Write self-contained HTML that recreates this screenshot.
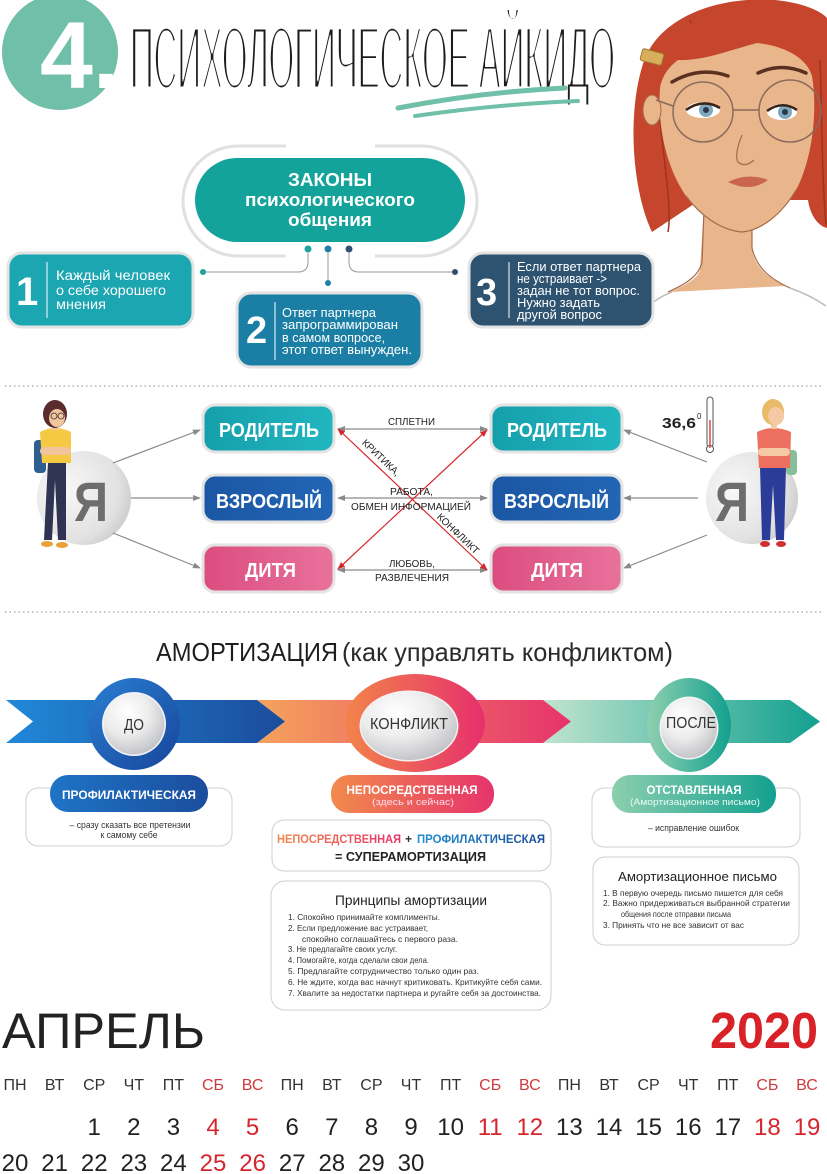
<!DOCTYPE html>
<html><head><meta charset="utf-8"><style>
html,body{margin:0;padding:0;background:#fff;}
svg{display:block;}
text{font-family:"Liberation Sans","DejaVu Sans",sans-serif;}
</style></head><body>
<svg width="827" height="1174" viewBox="0 0 827 1174" xmlns="http://www.w3.org/2000/svg">
<defs>
<filter id="thin" x="-5%" y="-20%" width="110%" height="140%"><feMorphology operator="erode" radius="0.6 2.4"/></filter>
<marker id="ag" markerWidth="8" markerHeight="6" refX="7" refY="3" orient="auto-start-reverse" markerUnits="userSpaceOnUse"><path d="M0,0 L8,3 L0,6 Z" fill="#8a8a8a"/></marker>
<marker id="ar" markerWidth="8" markerHeight="6" refX="7" refY="3" orient="auto-start-reverse" markerUnits="userSpaceOnUse"><path d="M0,0 L8,3 L0,6 Z" fill="#d6282c"/></marker>
<linearGradient id="gTeal" x1="0" x2="1"><stop offset="0" stop-color="#14a0ab"/><stop offset="1" stop-color="#22b6c0"/></linearGradient>
<linearGradient id="gBlue" x1="0" x2="1"><stop offset="0" stop-color="#1b56a3"/><stop offset="1" stop-color="#2266b5"/></linearGradient>
<linearGradient id="gPink" x1="0" x2="1"><stop offset="0" stop-color="#db4d7f"/><stop offset="1" stop-color="#e8729b"/></linearGradient>
<linearGradient id="bBlue" x1="0" x2="1"><stop offset="0" stop-color="#2188d8"/><stop offset="1" stop-color="#1b4c9c"/></linearGradient>
<linearGradient id="bOr" x1="0" x2="1"><stop offset="0" stop-color="#f5a35d"/><stop offset="1" stop-color="#e6336c"/></linearGradient>
<linearGradient id="bGr" x1="0" x2="1"><stop offset="0" stop-color="#c0e4cf"/><stop offset="1" stop-color="#12a08f"/></linearGradient>
<linearGradient id="cBlue" x1="0" y1="0" x2="1" y2="1"><stop offset="0" stop-color="#2a7fd4"/><stop offset="1" stop-color="#17459a"/></linearGradient>
<linearGradient id="cOr" x1="0" x2="1"><stop offset="0" stop-color="#f2844a"/><stop offset="1" stop-color="#e6306c"/></linearGradient>
<linearGradient id="cGr" x1="0" x2="1"><stop offset="0" stop-color="#8fd0b0"/><stop offset="1" stop-color="#13a08e"/></linearGradient>
<radialGradient id="gIn" cx="0.38" cy="0.3" r="0.75"><stop offset="0" stop-color="#ffffff"/><stop offset="0.5" stop-color="#ececec"/><stop offset="1" stop-color="#bfc0c5"/></radialGradient>
<radialGradient id="gYa" cx="0.3" cy="0.4" r="0.8"><stop offset="0" stop-color="#f8f8f8"/><stop offset="0.7" stop-color="#e2e2e2"/><stop offset="1" stop-color="#c4c4c4"/></radialGradient>
<linearGradient id="pBlue" x1="0" x2="1"><stop offset="0" stop-color="#1f74c6"/><stop offset="1" stop-color="#1b4d9d"/></linearGradient>
<linearGradient id="pOr" x1="0" x2="1"><stop offset="0" stop-color="#f28a4c"/><stop offset="1" stop-color="#e6336c"/></linearGradient>
<linearGradient id="pGr" x1="0" x2="1"><stop offset="0" stop-color="#8ccfae"/><stop offset="1" stop-color="#13a090"/></linearGradient>
<linearGradient id="tOr" gradientUnits="userSpaceOnUse" x1="277" x2="401"><stop offset="0" stop-color="#f28a4c"/><stop offset="1" stop-color="#e6336c"/></linearGradient>
<linearGradient id="tBl" gradientUnits="userSpaceOnUse" x1="417" x2="545"><stop offset="0" stop-color="#1f8fd0"/><stop offset="1" stop-color="#1b4d9d"/></linearGradient>
</defs>

<!-- ===== HEADER ===== -->
<circle cx="60" cy="52" r="58" fill="#70bfa8"/>
<text x="40" y="88" font-size="95" font-weight="bold" fill="#fff">4.</text>
<text x="130" y="89" font-size="90" fill="#1a1a1a" textLength="485" lengthAdjust="spacingAndGlyphs" filter="url(#thin)">ПСИХОЛОГИЧЕСКОЕ АЙКИДО</text>
<path d="M398 108 Q480 92 565 88" stroke="#70bfa8" stroke-width="5" fill="none" stroke-linecap="round"/>
<path d="M415 116 Q500 104 578 101" stroke="#70bfa8" stroke-width="4" fill="none" stroke-linecap="round"/>

<!-- Girl illustration -->
<g>
<path d="M652 232 C632 190 626 110 645 58 C662 18 715 -4 775 0 C805 3 822 12 827 18 L827 228 C818 226 810 215 808 200 L700 200 Z" fill="#c5462d"/>
<path d="M660 120 C665 170 672 210 668 232 M820 60 C822 120 822 180 826 225 M690 20 C700 60 720 40 760 22" stroke="#9c3420" stroke-width="1.5" fill="none"/>
<path d="M700 270 L704 205 L752 205 L752 250 C755 266 765 276 785 286 L670 292 C688 284 698 278 700 270 Z" fill="#e9b68c"/>
<path d="M704 210 L702 262 C699 276 686 284 668 292 M752 212 L752 248 C756 266 768 278 790 288" stroke="#a46a4a" stroke-width="1.2" fill="none"/>
<path d="M640 312 Q660 296 672 292 M790 288 Q810 295 826 306" stroke="#bdbdbd" stroke-width="1.5" fill="none"/>
<path d="M660 88 C664 60 700 42 740 42 C780 42 806 56 812 76 C818 112 812 160 796 190 C782 214 762 230 742 232 C720 230 700 215 686 196 C668 170 657 130 660 88 Z" fill="#e9b68c"/>
<path d="M686 196 C700 215 720 230 742 232 C762 230 782 214 796 190" stroke="#a46a4a" stroke-width="1.2" fill="none"/>
<path d="M655 55 C690 70 730 48 770 40 C795 36 812 50 818 62 L822 30 C790 10 720 10 670 30 Z" fill="#c5462d"/>
<ellipse cx="652" cy="110" rx="9" ry="15" fill="#e9b68c" stroke="#a46a4a" stroke-width="1"/>
<rect x="641" y="51" width="22" height="12" rx="2" fill="#d8ad5c" stroke="#a07a30" transform="rotate(15 652 57)"/>
<path d="M672 82 Q700 66 728 76" stroke="#5a3020" stroke-width="3.5" fill="none" stroke-linecap="round"/>
<path d="M758 73 Q782 62 806 73" stroke="#5a3020" stroke-width="3.5" fill="none" stroke-linecap="round"/>
<ellipse cx="703" cy="110" rx="17" ry="8" fill="#fff"/>
<circle cx="706" cy="110" r="7" fill="#7fa9c0"/><circle cx="706" cy="110" r="3" fill="#2a3a4a"/>
<path d="M686 110 Q703 98 720 108" stroke="#3a2418" stroke-width="2.5" fill="none"/>
<ellipse cx="782" cy="112" rx="15" ry="8" fill="#fff"/>
<circle cx="785" cy="112" r="7" fill="#7fa9c0"/><circle cx="785" cy="112" r="3" fill="#2a3a4a"/>
<path d="M767 111 Q782 100 797 110" stroke="#3a2418" stroke-width="2.5" fill="none"/>
<circle cx="703" cy="112" r="30" fill="none" stroke="#8a6a5a" stroke-width="1.5"/>
<circle cx="790" cy="111" r="31" fill="none" stroke="#8a6a5a" stroke-width="1.5"/>
<path d="M733 110 L759 110 M673 106 L656 100" stroke="#8a6a5a" stroke-width="1.5"/>
<path d="M742 135 Q734 155 738 162 Q745 168 754 160" stroke="#a46a4a" stroke-width="1.2" fill="none"/>
<path d="M728 182 Q748 172 768 180 Q750 193 728 182 Z" fill="#c9654e"/>
</g>

<!-- ===== LAWS ===== -->
<rect x="183" y="146" width="294" height="110" rx="55" fill="none" stroke="#e0e0e0" stroke-width="3"/>
<rect x="286" y="140" width="89" height="12" fill="#fff"/>
<rect x="286" y="250" width="89" height="12" fill="#fff"/>
<rect x="195" y="158" width="270" height="84" rx="42" fill="#14a39a"/>
<text x="330" y="186" text-anchor="middle" font-size="18" font-weight="bold" fill="#fff" textLength="84" lengthAdjust="spacingAndGlyphs">ЗАКОНЫ</text>
<text x="330" y="206" text-anchor="middle" font-size="18" font-weight="bold" fill="#fff" textLength="170" lengthAdjust="spacingAndGlyphs">психологического</text>
<text x="330" y="226" text-anchor="middle" font-size="18" font-weight="bold" fill="#fff" textLength="84" lengthAdjust="spacingAndGlyphs">общения</text>
<path d="M308 253 V262 Q308 272 298 272 H203" stroke="#9a9a9a" stroke-width="1" fill="none"/>
<path d="M328 253 V283" stroke="#9a9a9a" stroke-width="1"/>
<path d="M349 253 V262 Q349 272 359 272 H455" stroke="#9a9a9a" stroke-width="1" fill="none"/>
<circle cx="308" cy="249" r="3.5" fill="#1aa3a0"/><circle cx="328" cy="249" r="3.5" fill="#1e7fa5"/><circle cx="349" cy="249" r="3.5" fill="#2f5270"/>
<circle cx="203" cy="272" r="3" fill="#1aa3a0"/><circle cx="328" cy="283" r="3" fill="#1e7fa5"/><circle cx="455" cy="272" r="3" fill="#2f5270"/>

<rect x="8" y="253" width="185" height="74" rx="14" fill="#1ba6b2" stroke="#e3e3e3" stroke-width="3"/>
<text x="16" y="305" font-size="40" font-weight="bold" fill="#fff">1</text>
<line x1="47" y1="262" x2="47" y2="318" stroke="#fff" stroke-width="1"/>
<text x="56" y="280" font-size="14" fill="#fff" textLength="114" lengthAdjust="spacingAndGlyphs">Каждый человек</text>
<text x="56" y="295" font-size="14" fill="#fff" textLength="110" lengthAdjust="spacingAndGlyphs">о себе хорошего</text>
<text x="56" y="309" font-size="14" fill="#fff" textLength="50" lengthAdjust="spacingAndGlyphs">мнения</text>

<rect x="237" y="293" width="185" height="74" rx="14" fill="#1b7fa5" stroke="#e3e3e3" stroke-width="3"/>
<text x="246" y="343" font-size="38" font-weight="bold" fill="#fff">2</text>
<line x1="275" y1="302" x2="275" y2="360" stroke="#fff" stroke-width="1"/>
<text x="282" y="317" font-size="13" fill="#fff" textLength="94" lengthAdjust="spacingAndGlyphs">Ответ партнера</text>
<text x="282" y="329" font-size="13" fill="#fff" textLength="116" lengthAdjust="spacingAndGlyphs">запрограммирован</text>
<text x="282" y="342" font-size="13" fill="#fff" textLength="103" lengthAdjust="spacingAndGlyphs">в самом вопросе,</text>
<text x="282" y="354" font-size="13" fill="#fff" textLength="130" lengthAdjust="spacingAndGlyphs">этот ответ вынужден.</text>

<rect x="469" y="253" width="184" height="74" rx="14" fill="#2e5370" stroke="#e3e3e3" stroke-width="3"/>
<text x="476" y="305" font-size="38" font-weight="bold" fill="#fff">3</text>
<line x1="509" y1="262" x2="509" y2="318" stroke="#fff" stroke-width="1"/>
<text x="517" y="271" font-size="13" fill="#fff" textLength="124" lengthAdjust="spacingAndGlyphs">Если ответ партнера</text>
<text x="517" y="283" font-size="13" fill="#fff" textLength="90" lengthAdjust="spacingAndGlyphs">не устраивает -&gt;</text>
<text x="517" y="295" font-size="13" fill="#fff" textLength="123" lengthAdjust="spacingAndGlyphs">задан не тот вопрос.</text>
<text x="517" y="307" font-size="13" fill="#fff" textLength="83" lengthAdjust="spacingAndGlyphs">Нужно задать</text>
<text x="517" y="319" font-size="13" fill="#fff" textLength="85" lengthAdjust="spacingAndGlyphs">другой вопрос</text>

<line x1="5" y1="386" x2="822" y2="386" stroke="#b0b0b0" stroke-width="1.5" stroke-dasharray="1.5 3"/>
<line x1="5" y1="612" x2="822" y2="612" stroke="#b0b0b0" stroke-width="1.5" stroke-dasharray="1.5 3"/>

<!-- ===== TRANSACTIONAL ===== -->
<circle cx="84" cy="498" r="47" fill="url(#gYa)"/>
<text x="74" y="521" font-size="56" font-weight="bold" fill="#6d6d6d" textLength="34" lengthAdjust="spacingAndGlyphs">Я</text>
<circle cx="752" cy="498" r="46" fill="url(#gYa)"/>
<text x="715" y="521" font-size="56" font-weight="bold" fill="#6d6d6d" textLength="34" lengthAdjust="spacingAndGlyphs">Я</text>

<!-- left woman -->
<g>
<rect x="34" y="440" width="12" height="33" rx="4" fill="#2f5f8f"/>
<path d="M48 462 L44 540 L52 540 L55 480 L58 540 L66 540 L66 462 Z" fill="#2e3452"/>
<path d="M40 432 Q55 424 71 432 L71 463 L42 463 Z" fill="#f6c945"/>
<rect x="40" y="447" width="31" height="8" rx="4" fill="#f1c49c"/>
<ellipse cx="47" cy="544" rx="6" ry="3" fill="#e8a23a"/><ellipse cx="62" cy="545" rx="6" ry="3" fill="#e8a23a"/>
<rect x="52" y="424" width="6" height="6" fill="#f1c49c"/>
<ellipse cx="55" cy="414" rx="12" ry="14" fill="#5b2b2e"/>
<ellipse cx="57" cy="418" rx="8" ry="9" fill="#f1c49c"/>
<circle cx="54" cy="416" r="3" fill="none" stroke="#333" stroke-width="0.8"/><circle cx="61" cy="416" r="3" fill="none" stroke="#333" stroke-width="0.8"/>
</g>
<!-- right woman -->
<g>
<rect x="786" y="450" width="11" height="25" rx="4" fill="#86c09a"/>
<path d="M760 467 L762 540 L770 540 L773 485 L776 540 L784 540 L786 467 Z" fill="#2b3c98"/>
<path d="M757 432 Q773 424 791 432 L790 468 L759 468 Z" fill="#ec6f5f"/>
<rect x="758" y="448" width="32" height="8" rx="4" fill="#f4c9a4"/>
<ellipse cx="765" cy="544" rx="5" ry="3" fill="#d23030"/><ellipse cx="781" cy="544" rx="5" ry="3" fill="#d23030"/>
<rect x="771" y="423" width="6" height="6" fill="#f4c9a4"/>
<ellipse cx="773" cy="412" rx="11" ry="13" fill="#e7bb6a"/>
<ellipse cx="776" cy="416" rx="8" ry="9" fill="#f4c9a4"/>
</g>
<!-- thermometer -->
<rect x="707" y="397" width="6" height="50" rx="3" fill="#fff" stroke="#555" stroke-width="1"/>
<circle cx="710" cy="449" r="3.5" fill="#fff" stroke="#555" stroke-width="1"/>
<line x1="710" y1="420" x2="710" y2="448" stroke="#d44" stroke-width="1.5"/>
<text x="662" y="428" font-size="15" font-weight="bold" fill="#222" textLength="34" lengthAdjust="spacingAndGlyphs">36,6</text>
<text x="697" y="419" font-size="8" fill="#222">0</text>

<!-- arrows -->
<g stroke="#8a8a8a" stroke-width="1.2">
<line x1="113" y1="463" x2="200" y2="430" marker-end="url(#ag)"/>
<line x1="131" y1="498" x2="200" y2="498" marker-end="url(#ag)"/>
<line x1="113" y1="533" x2="200" y2="568" marker-end="url(#ag)"/>
<line x1="707" y1="462" x2="624" y2="430" marker-end="url(#ag)"/>
<line x1="698" y1="498" x2="624" y2="498" marker-end="url(#ag)"/>
<line x1="707" y1="535" x2="624" y2="568" marker-end="url(#ag)"/>
<line x1="338" y1="429" x2="487" y2="429" marker-start="url(#ag)" marker-end="url(#ag)"/>
<line x1="338" y1="498" x2="487" y2="498" marker-start="url(#ag)" marker-end="url(#ag)"/>
<line x1="338" y1="570" x2="487" y2="570" marker-start="url(#ag)" marker-end="url(#ag)"/>
</g>
<g stroke="#d6282c" stroke-width="1.2">
<line x1="338" y1="429" x2="487" y2="570" marker-start="url(#ar)" marker-end="url(#ar)"/>
<line x1="487" y1="430" x2="338" y2="569" marker-start="url(#ar)" marker-end="url(#ar)"/>
</g>

<!-- boxes -->
<rect x="203" y="405" width="131" height="47" rx="12" fill="url(#gTeal)" stroke="#e3e3e3" stroke-width="3"/>
<rect x="203" y="475" width="131" height="47" rx="12" fill="url(#gBlue)" stroke="#e3e3e3" stroke-width="3"/>
<rect x="203" y="545" width="131" height="47" rx="12" fill="url(#gPink)" stroke="#e3e3e3" stroke-width="3"/>
<rect x="491" y="405" width="131" height="47" rx="12" fill="url(#gTeal)" stroke="#e3e3e3" stroke-width="3"/>
<rect x="491" y="475" width="131" height="47" rx="12" fill="url(#gBlue)" stroke="#e3e3e3" stroke-width="3"/>
<rect x="491" y="545" width="131" height="47" rx="12" fill="url(#gPink)" stroke="#e3e3e3" stroke-width="3"/>
<g font-size="20" font-weight="bold" fill="#fff">
<text x="219" y="437" textLength="100" lengthAdjust="spacingAndGlyphs">РОДИТЕЛЬ</text>
<text x="216" y="508" textLength="106" lengthAdjust="spacingAndGlyphs">ВЗРОСЛЫЙ</text>
<text x="245" y="577" textLength="51" lengthAdjust="spacingAndGlyphs">ДИТЯ</text>
<text x="507" y="437" textLength="100" lengthAdjust="spacingAndGlyphs">РОДИТЕЛЬ</text>
<text x="504" y="508" textLength="105" lengthAdjust="spacingAndGlyphs">ВЗРОСЛЫЙ</text>
<text x="531" y="577" textLength="52" lengthAdjust="spacingAndGlyphs">ДИТЯ</text>
</g>
<g font-size="10" fill="#222">
<text x="388" y="425" textLength="47" lengthAdjust="spacingAndGlyphs">СПЛЕТНИ</text>
<text x="390" y="495" textLength="43" lengthAdjust="spacingAndGlyphs">РАБОТА,</text>
<text x="351" y="510" textLength="120" lengthAdjust="spacingAndGlyphs">ОБМЕН ИНФОРМАЦИЕЙ</text>
<text x="389" y="567" textLength="46" lengthAdjust="spacingAndGlyphs">ЛЮБОВЬ,</text>
<text x="375" y="581" textLength="74" lengthAdjust="spacingAndGlyphs">РАЗВЛЕЧЕНИЯ</text>
<text transform="translate(376 463) rotate(43.6)" x="0" y="-4" text-anchor="middle" textLength="48" lengthAdjust="spacingAndGlyphs">КРИТИКА,</text>
<text transform="translate(453 539) rotate(43.6)" x="0" y="-4" text-anchor="middle" textLength="54" lengthAdjust="spacingAndGlyphs">КОНФЛИКТ</text>
</g>

<!-- ===== AMORTIZATION ===== -->
<text x="156" y="661" font-size="26" fill="#1e1e1e" textLength="182" lengthAdjust="spacingAndGlyphs">АМОРТИЗАЦИЯ</text>
<text x="342" y="661" font-size="26" fill="#2a2a2a" textLength="331" lengthAdjust="spacingAndGlyphs">(как управлять конфликтом)</text>

<polygon points="543,700 790,700 820,721.5 790,743 543,743 571,721.5" fill="url(#bGr)"/>
<polygon points="257,700 543,700 571,721.5 543,743 257,743 285,721.5" fill="url(#bOr)"/>
<polygon points="6,700 257,700 285,721.5 257,743 6,743 33,721.5" fill="url(#bBlue)"/>

<circle cx="134" cy="724" r="46" fill="url(#cBlue)"/>
<circle cx="134" cy="724" r="32" fill="#f0f4fa"/>
<circle cx="134" cy="724" r="30.5" fill="url(#gIn)"/>
<text x="134" y="730" text-anchor="middle" font-size="16" fill="#333" textLength="20" lengthAdjust="spacingAndGlyphs">ДО</text>

<ellipse cx="415" cy="723" rx="70" ry="49" fill="url(#cOr)"/>
<ellipse cx="409" cy="726" rx="49.5" ry="35.5" fill="#f5f0f2"/>
<ellipse cx="409" cy="726" rx="48" ry="34" fill="url(#gIn)"/>
<text x="409" y="729" text-anchor="middle" font-size="16" fill="#333" textLength="78" lengthAdjust="spacingAndGlyphs">КОНФЛИКТ</text>

<ellipse cx="689" cy="725" rx="42" ry="47" fill="url(#cGr)"/>
<ellipse cx="689" cy="728" rx="29.5" ry="31.5" fill="#f0f6f3"/>
<ellipse cx="689" cy="728" rx="28" ry="30" fill="url(#gIn)"/>
<text x="691" y="728" text-anchor="middle" font-size="16" fill="#333" textLength="50" lengthAdjust="spacingAndGlyphs">ПОСЛЕ</text>

<!-- left -->
<rect x="26" y="788" width="206" height="58" rx="12" fill="#fff" stroke="#cfcfcf" stroke-width="1"/>
<rect x="50" y="775" width="158" height="37" rx="18" fill="url(#pBlue)"/>
<text x="62" y="799" font-size="12" font-weight="bold" fill="#fff" textLength="134" lengthAdjust="spacingAndGlyphs">ПРОФИЛАКТИЧЕСКАЯ</text>
<text x="130" y="828" text-anchor="middle" font-size="9.5" fill="#333" textLength="121" lengthAdjust="spacingAndGlyphs">– сразу сказать все претензии</text>
<text x="129" y="838" text-anchor="middle" font-size="9.5" fill="#333" textLength="57" lengthAdjust="spacingAndGlyphs">к самому себе</text>

<!-- middle -->
<rect x="331" y="775" width="163" height="38" rx="18" fill="url(#pOr)"/>
<text x="412" y="794" text-anchor="middle" font-size="12" font-weight="bold" fill="#fff" textLength="131" lengthAdjust="spacingAndGlyphs">НЕПОСРЕДСТВЕННАЯ</text>
<text x="413" y="805" text-anchor="middle" font-size="9" fill="#fde" textLength="82" lengthAdjust="spacingAndGlyphs">(здесь и сейчас)</text>
<rect x="272" y="820" width="279" height="51" rx="12" fill="#fff" stroke="#cfcfcf" stroke-width="1"/>
<text x="277" y="843" font-size="12" font-weight="bold" fill="url(#tOr)" textLength="124" lengthAdjust="spacingAndGlyphs">НЕПОСРЕДСТВЕННАЯ</text>
<text x="405" y="843" font-size="12" font-weight="bold" fill="#333">+</text>
<text x="417" y="843" font-size="12" font-weight="bold" fill="url(#tBl)" textLength="128" lengthAdjust="spacingAndGlyphs">ПРОФИЛАКТИЧЕСКАЯ</text>
<text x="335" y="861" font-size="13" font-weight="bold" fill="#222" textLength="151" lengthAdjust="spacingAndGlyphs">= СУПЕРАМОРТИЗАЦИЯ</text>

<rect x="271" y="881" width="280" height="129" rx="14" fill="#fff" stroke="#cfcfcf" stroke-width="1"/>
<text x="335" y="905" font-size="14" fill="#222" textLength="152" lengthAdjust="spacingAndGlyphs">Принципы амортизации</text>
<g font-size="8.5" fill="#333">
<text x="288" y="920" textLength="152" lengthAdjust="spacingAndGlyphs">1. Спокойно принимайте комплименты.</text>
<text x="288" y="931" textLength="140" lengthAdjust="spacingAndGlyphs">2. Если предложение вас устраивает,</text>
<text x="302" y="942" textLength="156" lengthAdjust="spacingAndGlyphs">спокойно соглашайтесь с первого раза.</text>
<text x="288" y="952" textLength="109" lengthAdjust="spacingAndGlyphs">3. Не предлагайте своих услуг.</text>
<text x="288" y="963" textLength="141" lengthAdjust="spacingAndGlyphs">4. Помогайте, когда сделали свои дела.</text>
<text x="288" y="974" textLength="191" lengthAdjust="spacingAndGlyphs">5. Предлагайте сотрудничество только один раз.</text>
<text x="288" y="985" textLength="254" lengthAdjust="spacingAndGlyphs">6. Не ждите, когда вас начнут критиковать. Критикуйте себя сами.</text>
<text x="288" y="996" textLength="253" lengthAdjust="spacingAndGlyphs">7. Хвалите за недостатки партнера и ругайте себя за достоинства.</text>
</g>

<!-- right -->
<rect x="592" y="788" width="208" height="59" rx="12" fill="#fff" stroke="#cfcfcf" stroke-width="1"/>
<rect x="612" y="775" width="164" height="38" rx="18" fill="url(#pGr)"/>
<text x="694" y="794" text-anchor="middle" font-size="12" font-weight="bold" fill="#fff" textLength="95" lengthAdjust="spacingAndGlyphs">ОТСТАВЛЕННАЯ</text>
<text x="695" y="805" text-anchor="middle" font-size="9" fill="#eafaf3" textLength="130" lengthAdjust="spacingAndGlyphs">(Амортизационное письмо)</text>
<text x="648" y="831" font-size="9.5" fill="#333" textLength="91" lengthAdjust="spacingAndGlyphs">– исправление ошибок</text>

<rect x="593" y="857" width="206" height="88" rx="12" fill="#fff" stroke="#cfcfcf" stroke-width="1"/>
<text x="618" y="881" font-size="13" fill="#222" textLength="159" lengthAdjust="spacingAndGlyphs">Амортизационное письмо</text>
<g font-size="8.5" fill="#333">
<text x="603" y="896" textLength="180" lengthAdjust="spacingAndGlyphs">1. В первую очередь письмо пишется для себя</text>
<text x="603" y="906" textLength="187" lengthAdjust="spacingAndGlyphs">2. Важно придерживаться выбранной стратегии</text>
<text x="621" y="917" textLength="110" lengthAdjust="spacingAndGlyphs">общения после отправки письма</text>
<text x="603" y="928" textLength="141" lengthAdjust="spacingAndGlyphs">3. Принять что не все зависит от вас</text>
</g>

<!-- ===== CALENDAR ===== -->
<text x="2" y="1048" font-size="50" fill="#222" textLength="203" lengthAdjust="spacingAndGlyphs">АПРЕЛЬ</text>
<text x="710" y="1048" font-size="51" font-weight="bold" fill="#d92228" textLength="108" lengthAdjust="spacingAndGlyphs">2020</text>

<g font-size="16" fill="#333" text-anchor="middle">
<text x="15" y="1090">ПН</text><text x="54.6" y="1090">ВТ</text><text x="94.2" y="1090">СР</text><text x="133.8" y="1090">ЧТ</text><text x="173.4" y="1090">ПТ</text><text x="213" y="1090" fill="#d03a3e">СБ</text><text x="252.6" y="1090" fill="#d03a3e">ВС</text>
<text x="292.2" y="1090">ПН</text><text x="331.8" y="1090">ВТ</text><text x="371.4" y="1090">СР</text><text x="411" y="1090">ЧТ</text><text x="450.6" y="1090">ПТ</text><text x="490.2" y="1090" fill="#d03a3e">СБ</text><text x="529.8" y="1090" fill="#d03a3e">ВС</text>
<text x="569.4" y="1090">ПН</text><text x="609" y="1090">ВТ</text><text x="648.6" y="1090">СР</text><text x="688.2" y="1090">ЧТ</text><text x="727.8" y="1090">ПТ</text><text x="767.4" y="1090" fill="#d03a3e">СБ</text><text x="807" y="1090" fill="#d03a3e">ВС</text>
</g>
<g font-size="24" fill="#222" text-anchor="middle">
<text x="94.2" y="1135">1</text><text x="133.8" y="1135">2</text><text x="173.4" y="1135">3</text><text x="213" y="1135" fill="#d6262d">4</text><text x="252.6" y="1135" fill="#d6262d">5</text>
<text x="292.2" y="1135">6</text><text x="331.8" y="1135">7</text><text x="371.4" y="1135">8</text><text x="411" y="1135">9</text><text x="450.6" y="1135">10</text><text x="490.2" y="1135" fill="#d6262d">11</text><text x="529.8" y="1135" fill="#d6262d">12</text>
<text x="569.4" y="1135">13</text><text x="609" y="1135">14</text><text x="648.6" y="1135">15</text><text x="688.2" y="1135">16</text><text x="727.8" y="1135">17</text><text x="767.4" y="1135" fill="#d6262d">18</text><text x="807" y="1135" fill="#d6262d">19</text>
<text x="15" y="1171">20</text><text x="54.6" y="1171">21</text><text x="94.2" y="1171">22</text><text x="133.8" y="1171">23</text><text x="173.4" y="1171">24</text><text x="213" y="1171" fill="#d6262d">25</text><text x="252.6" y="1171" fill="#d6262d">26</text>
<text x="292.2" y="1171">27</text><text x="331.8" y="1171">28</text><text x="371.4" y="1171">29</text><text x="411" y="1171">30</text>
</g>
</svg>
</body></html>
